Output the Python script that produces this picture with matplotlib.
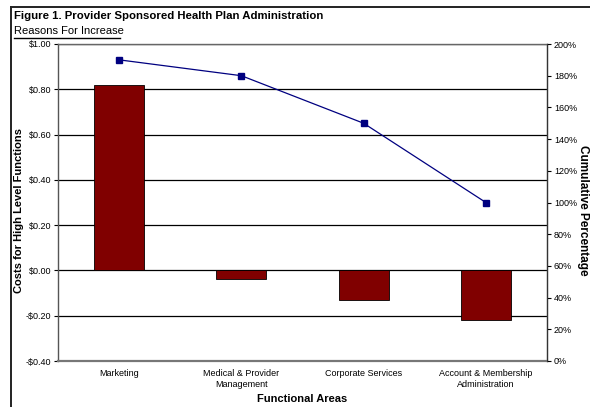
import matplotlib.pyplot as plt
from matplotlib.lines import Line2D
from matplotlib.ticker import FuncFormatter, MultipleLocator

plt.rcParams['font.family'] = ['Liberation Sans', 'DejaVu Sans']

# данные графика
categories = ["Marketing", "Medical & Provider\nManagement",
              "Corporate Services", "Account & Membership\nAdministration"]
costs = [0.82, -0.04, -0.13, -0.22]
cumulative_pct = [190, 180, 150, 100]

fig = plt.figure(figsize=(5.9, 4.07), dpi=100)
ax = fig.add_axes([58 / 590, 1 - 361 / 407, 489 / 590, 317 / 407])

x = list(range(len(categories)))
ax.bar(x, costs, width=0.41, color="#800000", edgecolor="black",
       linewidth=0.6, zorder=3)
ax.set_xlim(-0.5, len(categories) - 0.5)
ax.set_ylim(-0.4, 1.0)
ax.yaxis.set_major_locator(MultipleLocator(0.2))


def money(v, pos):
    if v < 0:
        return "-${:.2f}".format(-v)
    return "${:.2f}".format(v)


ax.yaxis.set_major_formatter(FuncFormatter(money))
ax.grid(axis="y", color="black", linewidth=0.9, zorder=0)
ax.set_xticks(x)
ax.set_xticklabels(categories, fontsize=6.5, linespacing=1.3)
ax.tick_params(axis="x", length=0, pad=6)
ax.tick_params(axis="y", labelsize=6.5, length=3, width=0.8, pad=2)
ax.set_xlabel("Functional Areas", fontsize=8, fontweight="bold", labelpad=3)
ax.set_ylabel("Costs for High Level Functions", fontsize=8,
              fontweight="bold", va="center")
ax.yaxis.set_label_coords(-0.08, 0.476)
for side in ["left", "right", "top", "bottom"]:
    ax.spines[side].set_color("#555555")
    ax.spines[side].set_linewidth(1.0)
ax.spines["bottom"].set_linewidth(1.6)
ax.spines["bottom"].set_color("#777777")
ax.spines["top"].set_color("#666666")

ax2 = ax.twinx()
ax2.plot(x, cumulative_pct, color="#000080", linewidth=0.9, marker="s",
         markersize=4.5, zorder=4)
ax2.set_ylim(0, 200)
ax2.yaxis.set_major_locator(MultipleLocator(20))
ax2.yaxis.set_major_formatter(FuncFormatter(lambda v, p: "{:.0f}%".format(v)))
ax2.tick_params(axis="y", labelsize=6.5, length=3, width=0.8, pad=2)
ax2.set_ylabel("Cumulative Percentage", fontsize=8.5, fontweight="bold",
               rotation=270, va="center")
ax2.yaxis.set_label_coords(1.074, 0.476)
for side in ["left", "right", "top", "bottom"]:
    ax2.spines[side].set_visible(False)
ax2.spines["right"].set_visible(True)
ax2.spines["right"].set_color("#333333")

# рамка и заголовки
fig.add_artist(Line2D([11 / 590, 11 / 590], [0, 1 - 7 / 407],
                      color="#222222", linewidth=1.4))
fig.add_artist(Line2D([11 / 590, 1], [1 - 7 / 407, 1 - 7 / 407],
                      color="#222222", linewidth=1.4))
fig.text(14 / 590, 1 - 16 / 407, "Figure 1. Provider Sponsored Health Plan Administration",
         fontsize=8.2, fontweight="bold", va="center")
fig.text(14 / 590, 1 - 31 / 407, "Reasons For Increase", fontsize=8,
         va="center")
fig.add_artist(Line2D([14 / 590, 120 / 590], [1 - 38 / 407, 1 - 38 / 407],
                      color="black", linewidth=1.0))

plt.savefig("out.png", dpi=100)
